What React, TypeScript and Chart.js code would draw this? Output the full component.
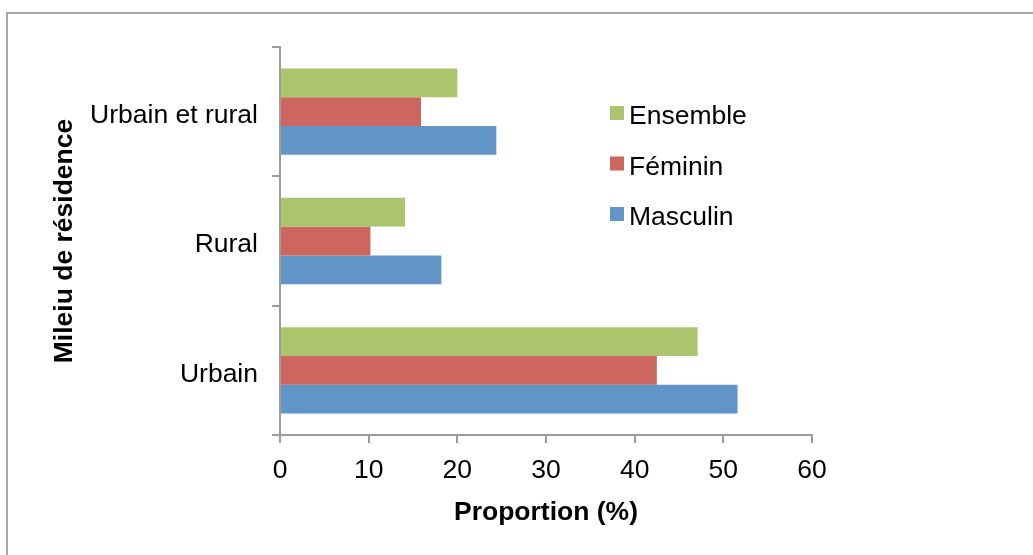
import React, { useEffect, useRef } from "react";
import { Chart, registerables } from "chart.js";

Chart.register(...registerables);

const categories = ["Urbain et rural", "Rural", "Urbain"];
const seriesNames = ["Ensemble", "Féminin", "Masculin"];
const ensemble = [20.0, 14.1, 47.1];
const feminin = [15.9, 10.2, 42.5];
const masculin = [24.4, 18.2, 51.6];
const xTicks = [0, 10, 20, 30, 40, 50, 60];
const colors = ["#ABC46D", "#CC665E", "#6195C8"];

const FONT = "'Liberation Sans', Arial, sans-serif";
const FS = 26.5;
const AXIS_COLOR = "#9C9C9C";

const insideLegend = {
  id: "insideLegend",
  afterDraw(chart: any) {
    const ctx = chart.ctx;
    ctx.save();
    ctx.font = `${FS}px ${FONT}`;
    ctx.textBaseline = "middle";
    ctx.textAlign = "left";
    const x0 = 610;
    const y0 = 113;
    const step = 50.5;
    chart.data.datasets.forEach((ds: any, i: number) => {
      const cy = y0 + i * step;
      ctx.fillStyle = ds.backgroundColor;
      ctx.fillRect(x0, cy - 7, 14, 14);
      ctx.fillStyle = "#000";
      ctx.fillText(ds.label, x0 + 19, cy + 4);
    });
    ctx.restore();
  },
};

export default function App() {
  const ref = useRef<HTMLCanvasElement>(null);
  useEffect(() => {
    if (!ref.current) return;
    const values = [ensemble, feminin, masculin];
    const chart = new Chart(ref.current, {
      type: "bar",
      data: {
        labels: categories,
        datasets: seriesNames.map((name, i) => ({
          label: name,
          data: values[i],
          backgroundColor: colors[i],
          borderWidth: 0,
          barPercentage: 1,
          categoryPercentage: 0.667,
        })),
      },
      options: {
        indexAxis: "y",
        animation: false,
        responsive: false,
        layout: { padding: { top: 47, right: 221, left: 0, bottom: 0 } },
        plugins: {
          legend: { display: false },
          tooltip: { enabled: false },
          title: { display: false },
        },
        scales: {
          x: {
            type: "linear",
            min: 0,
            max: 60,
            afterBuildTicks: (scale: any) => {
              scale.ticks = xTicks.map((v) => ({ value: v }));
            },
            afterFit: (scale: any) => {
              scale.height = 120;
            },
            border: { display: true, color: AXIS_COLOR, width: 2 },
            grid: {
              display: true,
              drawOnChartArea: false,
              drawTicks: true,
              tickLength: 8,
              color: AXIS_COLOR,
              lineWidth: 2,
            },
            ticks: {
              color: "#000",
              padding: 11.5,
              font: { family: FONT, size: FS },
              maxRotation: 0,
            },
            title: {
              display: true,
              text: "Proportion (%)",
              color: "#000",
              font: { family: FONT, size: FS, weight: "bold" },
              padding: { top: 0, bottom: 26.5 },
            },
          },
          y: {
            type: "category",
            offset: true,
            afterFit: (scale: any) => {
              scale.width = 280;
            },
            border: { display: true, color: AXIS_COLOR, width: 2 },
            grid: {
              display: true,
              offset: true,
              drawOnChartArea: false,
              drawTicks: true,
              tickLength: 8,
              color: AXIS_COLOR,
              lineWidth: 2,
            },
            ticks: {
              color: "#000",
              padding: 14,
              labelOffset: 4,
              font: { family: FONT, size: FS },
            },
            title: {
              display: true,
              text: "Mileiu de résidence",
              color: "#000",
              font: { family: FONT, size: FS, weight: "bold" },
              padding: { top: 49, bottom: 0 },
            },
          },
        },
      },
      plugins: [insideLegend],
    });
    return () => chart.destroy();
  }, []);

  return (
    <div
      style={{
        position: "fixed",
        left: 0,
        top: 0,
        width: 1033,
        height: 555,
        background: "#fff",
        overflow: "hidden",
      }}
    >
      <div
        style={{
          position: "absolute",
          left: 6,
          top: 12,
          right: 0,
          bottom: 0,
          borderLeft: "2px solid #A8A8A8",
          borderTop: "2px solid #A8A8A8",
        }}
      />
      <canvas
        ref={ref}
        width={1033}
        height={555}
        style={{ position: "absolute", left: 0, top: 0, width: 1033, height: 555 }}
      />
    </div>
  );
}
